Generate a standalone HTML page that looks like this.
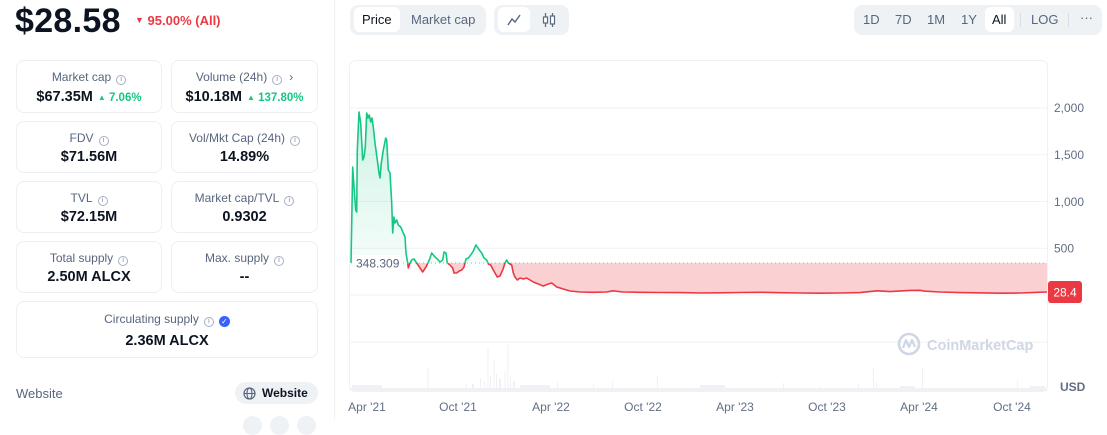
<!DOCTYPE html>
<html><head><meta charset="utf-8">
<style>
*{margin:0;padding:0;box-sizing:border-box}
body{width:1107px;height:420px;overflow:hidden;background:#fff;font-family:"Liberation Sans",sans-serif;position:relative;color:#0d1421}
.abs{position:absolute}
.card{position:absolute;border:1px solid #eceff3;border-radius:8px}
.lbl{position:absolute;left:0;right:0;text-align:center;font-size:12px;line-height:16px;color:#58667e;white-space:nowrap}
.val{position:absolute;left:0;right:0;text-align:center;font-size:14.5px;line-height:18px;font-weight:bold;color:#0d1421;white-space:nowrap}
.ii{display:inline-block;width:10px;height:10px;border:1px solid #a6b0c3;border-radius:50%;font-size:7px;line-height:8px;text-align:center;color:#a6b0c3;vertical-align:0px;margin-left:5px;font-weight:bold}
.up{color:#16c784;font-size:11.5px;font-weight:bold;margin-left:5px}
.grp{position:absolute;background:#eff2f5;border-radius:8px}
.btn{position:absolute;font-size:13px;color:#58667e;line-height:16px}
.act{position:absolute;background:#fff;border-radius:6px}
</style></head><body>

<!-- Left panel -->
<div class="abs" style="left:15px;top:3px;font-size:34px;font-weight:bold;line-height:36px;letter-spacing:0.3px">$28.58</div>
<div class="abs" style="left:135px;top:13px;font-size:13px;line-height:15px;color:#ea3943;font-weight:bold;white-space:nowrap"><span style="font-size:9px;position:relative;top:-2px">▼</span> 95.00% (All)</div>

<div class="card" style="left:16px;top:60px;width:146px;height:53px">
  <div class="lbl" style="top:8px">Market cap<span class="ii">i</span></div>
  <div class="val" style="top:27px">$67.35M<span class="up"><span style="font-size:8px;position:relative;top:-1px">▲</span> 7.06%</span></div>
</div>
<div class="card" style="left:171px;top:60px;width:147px;height:53px">
  <div class="lbl" style="top:8px">Volume (24h)<span class="ii">i</span><span style="margin-left:7px;color:#58667e">›</span></div>
  <div class="val" style="top:27px">$10.18M<span class="up"><span style="font-size:8px;position:relative;top:-1px">▲</span> 137.80%</span></div>
</div>
<div class="card" style="left:16px;top:121px;width:146px;height:52px">
  <div class="lbl" style="top:8px">FDV<span class="ii">i</span></div>
  <div class="val" style="top:26px">$71.56M</div>
</div>
<div class="card" style="left:171px;top:121px;width:147px;height:52px">
  <div class="lbl" style="top:8px">Vol/Mkt Cap (24h)<span class="ii">i</span></div>
  <div class="val" style="top:26px">14.89%</div>
</div>
<div class="card" style="left:16px;top:181px;width:146px;height:52px">
  <div class="lbl" style="top:8px">TVL<span class="ii">i</span></div>
  <div class="val" style="top:26px">$72.15M</div>
</div>
<div class="card" style="left:171px;top:181px;width:147px;height:52px">
  <div class="lbl" style="top:8px">Market cap/TVL<span class="ii">i</span></div>
  <div class="val" style="top:26px">0.9302</div>
</div>
<div class="card" style="left:16px;top:241px;width:146px;height:52px">
  <div class="lbl" style="top:8px">Total supply<span class="ii">i</span></div>
  <div class="val" style="top:26px">2.50M ALCX</div>
</div>
<div class="card" style="left:171px;top:241px;width:147px;height:52px">
  <div class="lbl" style="top:8px">Max. supply<span class="ii">i</span></div>
  <div class="val" style="top:26px">--</div>
</div>
<div class="card" style="left:16px;top:301px;width:302px;height:57px">
  <div class="lbl" style="top:9px">Circulating supply<span class="ii">i</span><span style="display:inline-block;width:11px;height:11px;border-radius:50%;background:#3861fb;color:#fff;font-size:8px;line-height:11px;text-align:center;margin-left:5px;vertical-align:-1px">✓</span></div>
  <div class="val" style="top:30px">2.36M ALCX</div>
</div>

<div class="abs" style="left:16px;top:386px;font-size:13px;color:#58667e;line-height:15px">Website</div>
<div class="abs" style="left:235px;top:382px;width:83px;height:22px;background:#eff2f5;border-radius:11px">
  <svg class="abs" style="left:8px;top:5px" width="13" height="13" viewBox="0 0 13 13"><circle cx="6.5" cy="6.5" r="5.5" fill="none" stroke="#58667e" stroke-width="1.2"/><ellipse cx="6.5" cy="6.5" rx="2.5" ry="5.5" fill="none" stroke="#58667e" stroke-width="1.1"/><line x1="1" y1="6.5" x2="12" y2="6.5" stroke="#58667e" stroke-width="1.1"/></svg>
  <div class="abs" style="left:27px;top:4px;font-size:12px;font-weight:bold;line-height:14px;color:#0d1421">Website</div>
</div>
<div class="abs" style="left:243px;top:416px;width:19px;height:19px;border-radius:50%;background:#eff2f5"></div>
<div class="abs" style="left:270px;top:416px;width:19px;height:19px;border-radius:50%;background:#eff2f5"></div>
<div class="abs" style="left:297px;top:416px;width:19px;height:19px;border-radius:50%;background:#eff2f5"></div>

<div class="abs" style="left:334px;top:0;width:1px;height:420px;background:#eff2f5"></div>

<!-- Toolbar -->
<div class="grp" style="left:350px;top:5px;width:136px;height:30px">
  <div class="act" style="left:4px;top:2px;width:46px;height:25px"></div>
  <div class="btn" style="left:12px;top:7px;color:#0d1421">Price</div>
  <div class="btn" style="left:61px;top:7px">Market cap</div>
</div>
<div class="grp" style="left:494px;top:5px;width:75px;height:30px">
  <div class="act" style="left:4px;top:2px;width:32px;height:25px"></div>
  <svg class="abs" style="left:13px;top:9px" width="14" height="12" viewBox="0 0 14 12"><polyline points="1,11 5,5 8,8 13,1" fill="none" stroke="#58667e" stroke-width="1.4"/></svg>
  <svg class="abs" style="left:48px;top:8px" width="14" height="14" viewBox="0 0 14 14"><line x1="3.5" y1="0" x2="3.5" y2="14" stroke="#58667e" stroke-width="1.2"/><rect x="1.5" y="4" width="4" height="6" fill="#fff" stroke="#58667e" stroke-width="1.2"/><line x1="10.5" y1="0" x2="10.5" y2="14" stroke="#58667e" stroke-width="1.2"/><rect x="8.5" y="3" width="4" height="8" fill="#fff" stroke="#58667e" stroke-width="1.2"/></svg>
</div>
<div class="grp" style="left:854px;top:5px;width:248px;height:30px">
  <div class="act" style="left:131px;top:2px;width:29px;height:25px"></div>
  <div class="btn" style="left:9px;top:7px">1D</div>
  <div class="btn" style="left:41px;top:7px">7D</div>
  <div class="btn" style="left:73px;top:7px">1M</div>
  <div class="btn" style="left:107px;top:7px">1Y</div>
  <div class="btn" style="left:138px;top:7px;color:#0d1421">All</div>
  <div class="abs" style="left:166px;top:8px;width:1px;height:14px;background:#d9dde4"></div>
  <div class="btn" style="left:177px;top:7px">LOG</div>
  <div class="abs" style="left:214px;top:8px;width:1px;height:14px;background:#d9dde4"></div>
  <div class="btn" style="left:226px;top:5px">···</div>
</div>

<!-- Chart -->
<svg class="abs" style="left:0;top:0" width="1107" height="420" viewBox="0 0 1107 420">
  <defs>
    <linearGradient id="gg" x1="0" y1="108" x2="0" y2="263" gradientUnits="userSpaceOnUse">
      <stop offset="0" stop-color="#16c784" stop-opacity="0.22"/>
      <stop offset="1" stop-color="#16c784" stop-opacity="0.04"/>
    </linearGradient>
    <clipPath id="above"><rect x="340" y="50" width="720" height="213"/></clipPath>
    <clipPath id="below"><rect x="340" y="263" width="720" height="100"/></clipPath>
    <path id="area" d="M351,263 L351,262.7 L352.7,167 L354,187 L355.7,210 L356.7,212 L357.3,150 L359,112 L360.7,123 L362.7,160 L364,157 L365.3,147 L366.7,113 L368,118 L369.3,115 L370.7,122 L372,118 L373.3,127 L375,143 L377.3,160 L379,173 L380,178 L381.3,163 L383.3,150 L385.7,138 L386.7,140 L388.3,170 L390,173 L391.7,203 L392.7,233 L394,217 L395,223 L396.7,220 L398.3,225 L400.7,227 L403.3,233 L405,237 L406,253 L407.7,263 L408.3,268 L410,263 L411.7,260 L414,259 L416.7,263 L420,268 L422.7,272 L426,267 L429.3,260 L431.7,253 L435,257 L437.3,259 L440,262 L442.7,260 L444,252 L446,253 L447.3,263 L450,265 L452.7,268 L454,273 L456.7,273 L459.3,271 L461.7,270 L464,267 L466,259 L468.3,258 L470.7,255 L473.3,251 L476,245 L477.3,247 L479.3,250 L481.7,253 L484,258 L486.7,260 L488.3,264 L490.7,265 L493.3,270 L495,273 L497.3,277 L500,276 L502.7,270 L505,263 L506.7,260 L508.3,263 L510,264 L511.7,265 L513.3,273 L515,277 L517.3,280 L520,278 L523.3,279 L526.7,278 L530,280 L533.3,282 L538.3,284 L543.3,286 L548.3,284 L551.7,283 L556.7,287 L563.3,289 L570,291 L580,292 L593,292.3 L606.7,292 L613,290.8 L623,292 L640,292.3 L660,292.5 L680,292.6 L700,293 L720,292.8 L740,292.5 L760,292.3 L780,292.7 L800,293 L820,293.2 L840,293 L860,292.6 L877,290.8 L890,291.6 L910,290.4 L920,290.3 L925,291.2 L940,292 L960,292.6 L1000,293.2 L1020,293 L1035,292.4 L1047,292 L1047,263 Z"/>
    <path id="ln" d="M351,262.7 L352.7,167 L354,187 L355.7,210 L356.7,212 L357.3,150 L359,112 L360.7,123 L362.7,160 L364,157 L365.3,147 L366.7,113 L368,118 L369.3,115 L370.7,122 L372,118 L373.3,127 L375,143 L377.3,160 L379,173 L380,178 L381.3,163 L383.3,150 L385.7,138 L386.7,140 L388.3,170 L390,173 L391.7,203 L392.7,233 L394,217 L395,223 L396.7,220 L398.3,225 L400.7,227 L403.3,233 L405,237 L406,253 L407.7,263 L408.3,268 L410,263 L411.7,260 L414,259 L416.7,263 L420,268 L422.7,272 L426,267 L429.3,260 L431.7,253 L435,257 L437.3,259 L440,262 L442.7,260 L444,252 L446,253 L447.3,263 L450,265 L452.7,268 L454,273 L456.7,273 L459.3,271 L461.7,270 L464,267 L466,259 L468.3,258 L470.7,255 L473.3,251 L476,245 L477.3,247 L479.3,250 L481.7,253 L484,258 L486.7,260 L488.3,264 L490.7,265 L493.3,270 L495,273 L497.3,277 L500,276 L502.7,270 L505,263 L506.7,260 L508.3,263 L510,264 L511.7,265 L513.3,273 L515,277 L517.3,280 L520,278 L523.3,279 L526.7,278 L530,280 L533.3,282 L538.3,284 L543.3,286 L548.3,284 L551.7,283 L556.7,287 L563.3,289 L570,291 L580,292 L593,292.3 L606.7,292 L613,290.8 L623,292 L640,292.3 L660,292.5 L680,292.6 L700,293 L720,292.8 L740,292.5 L760,292.3 L780,292.7 L800,293 L820,293.2 L840,293 L860,292.6 L877,290.8 L890,291.6 L910,290.4 L920,290.3 L925,291.2 L940,292 L960,292.6 L1000,293.2 L1020,293 L1035,292.4 L1047,292"/>
  </defs>
  <!-- frame & grid -->
  <rect x="349.5" y="60.5" width="698" height="331" rx="6" fill="none" stroke="#eff2f5"/>
  <g stroke="#f0f2f5" stroke-width="1">
    <line x1="350" y1="108" x2="1047" y2="108"/>
    <line x1="350" y1="154.7" x2="1047" y2="154.7"/>
    <line x1="350" y1="201.5" x2="1047" y2="201.5"/>
    <line x1="350" y1="248.3" x2="1047" y2="248.3"/>
    <line x1="350" y1="295" x2="1047" y2="295"/>
    <line x1="350" y1="342" x2="1047" y2="342"/>
  </g>
  <!-- volume bars -->
  <g fill="#f0f1f4">
    <rect x="350" y="388" width="697" height="3"/>
    <rect x="352" y="385" width="30" height="3"/>
    <rect x="427.5" y="367" width="1" height="24"/>
    <rect x="465.5" y="383" width="1" height="8"/>
    <rect x="472" y="384" width="2" height="7"/>
    <rect x="480" y="378" width="1" height="13"/>
    <rect x="484" y="381" width="1" height="10"/>
    <rect x="487.5" y="348" width="1" height="43"/>
    <rect x="490" y="376" width="1" height="15"/>
    <rect x="493.5" y="360" width="1" height="31"/>
    <rect x="496" y="374" width="1" height="17"/>
    <rect x="499" y="379" width="2" height="12"/>
    <rect x="504.5" y="372" width="1" height="19"/>
    <rect x="507.5" y="345" width="1" height="46"/>
    <rect x="510" y="377" width="1" height="14"/>
    <rect x="513" y="381" width="2" height="10"/>
    <rect x="520" y="385" width="30" height="3"/>
    <rect x="557" y="382" width="1" height="9"/>
    <rect x="593" y="383" width="1" height="8"/>
    <rect x="612" y="381" width="1" height="10"/>
    <rect x="657" y="376" width="1" height="15"/>
    <rect x="700" y="385" width="25" height="3"/>
    <rect x="783" y="383" width="1" height="8"/>
    <rect x="820" y="386" width="1" height="5"/>
    <rect x="858" y="383" width="1" height="8"/>
    <rect x="873" y="368" width="1" height="23"/>
    <rect x="876" y="382" width="1" height="9"/>
    <rect x="900" y="386" width="15" height="2"/>
    <rect x="922" y="368" width="1" height="23"/>
    <rect x="1017" y="380" width="1" height="11"/>
    <rect x="1030" y="386" width="15" height="2"/>
  </g>
  <!-- watermark -->
  <g transform="translate(909,344)">
    <circle cx="0" cy="0" r="10" fill="none" stroke="#cfd6e4" stroke-width="2.6"/>
    <path d="M-6,4 L-3,-4 L0,3 L3,-4 L6,3" fill="none" stroke="#cfd6e4" stroke-width="2.2" stroke-linejoin="round"/>
  </g>
  <text x="927" y="350" font-family="Liberation Sans, sans-serif" font-size="14.5" font-weight="bold" fill="#cfd6e4">CoinMarketCap</text>

  <!-- price area -->
  <g clip-path="url(#above)">
    <use href="#area" fill="url(#gg)"/>
    <use href="#ln" fill="none" stroke="#16c784" stroke-width="1.6" stroke-linejoin="round"/>
  </g>
  <g clip-path="url(#below)">
    <use href="#area" fill="rgba(234,57,67,0.24)"/>
    <use href="#ln" fill="none" stroke="#ea3943" stroke-width="1.6" stroke-linejoin="round"/>
  </g>
  <!-- baseline -->
  <line x1="351" y1="263" x2="1047" y2="263" stroke="#a6b0c3" stroke-width="1" stroke-dasharray="1,3"/>
  <rect x="353" y="255" width="48" height="16" fill="#fff"/>
  <text x="356" y="267.5" font-family="Liberation Sans, sans-serif" font-size="12" fill="#58667e">348.309</text>

  <!-- y labels -->
  <g font-family="Liberation Sans, sans-serif" font-size="12" fill="#616e85">
    <text x="1054" y="112">2,000</text>
    <text x="1054" y="159">1,500</text>
    <text x="1054" y="206">1,000</text>
    <text x="1054" y="252.5">500</text>
  </g>
  <rect x="1048" y="281" width="34" height="22" rx="3" fill="#ea3943"/>
  <text x="1065" y="296.5" text-anchor="middle" font-family="Liberation Sans, sans-serif" font-size="12" fill="#fff">28.4</text>
  <text x="1060" y="391" font-family="Liberation Sans, sans-serif" font-size="12" font-weight="bold" fill="#616e85">USD</text>

  <!-- x labels -->
  <g font-family="Liberation Sans, sans-serif" font-size="12" fill="#616e85" text-anchor="middle">
    <text x="367" y="411">Apr '21</text>
    <text x="458" y="411">Oct '21</text>
    <text x="551" y="411">Apr '22</text>
    <text x="643" y="411">Oct '22</text>
    <text x="735" y="411">Apr '23</text>
    <text x="827" y="411">Oct '23</text>
    <text x="919" y="411">Apr '24</text>
    <text x="1012" y="411">Oct '24</text>
  </g>
</svg>
</body></html>
